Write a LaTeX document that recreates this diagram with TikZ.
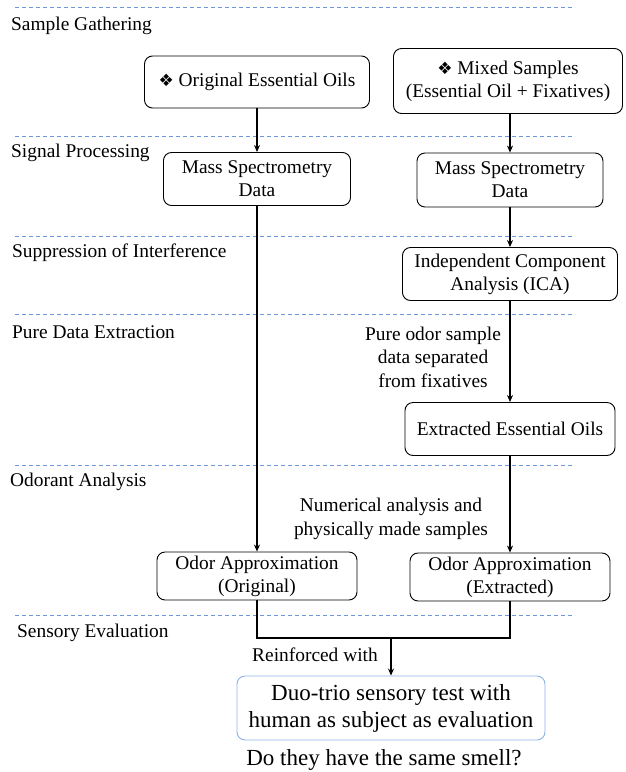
\documentclass[tikz,border=0pt]{standalone}
\usepackage{fontspec}
\setmainfont{Liberation Serif}
\newfontfamily\dejavu{DejaVu Sans}
\usetikzlibrary{arrows.meta}
\definecolor{sepblue}{HTML}{6F98DC}
\definecolor{duoblue}{HTML}{8FB0E6}
\newcommand{\dmd}{{\dejavu\fontsize{17}{17}\selectfont ❖}}

\begin{document}
\begin{tikzpicture}[x=1pt,y=-1pt,
  box/.style={draw,rounded corners=8pt,align=center,inner sep=0pt,line width=0.9pt,
    font=\fontsize{19.4}{23}\selectfont},
  sep/.style={draw=sepblue,dash pattern=on 4pt off 3pt,line width=1pt},
  lbl/.style={anchor=west,inner sep=0pt,font=\fontsize{19.4}{23}\selectfont},
  note/.style={align=center,inner sep=0pt,font=\fontsize{19.4}{23.5}\selectfont},
  flow/.style={line width=1.8pt,-{Stealth[length=7pt,width=6pt]}}]
\useasboundingbox (0,0) rectangle (625,772);
% stage separators and stage names
\draw[sep] (15,7.5) -- (575,7.5);
\draw[sep] (15,136.5) -- (575,136.5);
\draw[sep] (15,236.5) -- (575,236.5);
\draw[sep] (15,314.5) -- (575,314.5);
\draw[sep] (15,465.5) -- (575,465.5);
\draw[sep] (15,615.5) -- (575,615.5);
\node[lbl] (sg) at (11,26) {Sample Gathering};
\node[lbl] (sp) at (11,153) {Signal Processing};
\node[lbl] (si) at (12,253) {Suppression of Interference};
\node[lbl] (pd) at (12,332) {Pure Data Extraction};
\node[lbl] (oa) at (10,482) {Odorant Analysis};
\node[lbl] (se) at (17,633) {Sensory Evaluation};
%
\node[box,minimum width=225,minimum height=52] (orig) at (257,82) {\dmd\ Original Essential Oils};
\node[box,minimum width=229,minimum height=65] (mix) at (508,81) {\dmd\ Mixed Samples\\(Essential Oil + Fixatives)};
\node[box,minimum width=187,minimum height=53] (massA) at (257,179) {Mass Spectrometry\\Data};
\node[box,minimum width=186,minimum height=54] (massB) at (510,180) {Mass Spectrometry\\Data};
\node[box,minimum width=215,minimum height=53] (ica) at (510,274) {Independent Component\\Analysis (ICA)};
\node[box,minimum width=210,minimum height=53] (extr) at (510,429) {Extracted Essential Oils};
\node[box,minimum width=200,minimum height=48] (odorO) at (257,576) {Odor Approximation\\(Original)};
\node[box,minimum width=200,minimum height=48] (odorE) at (510,577) {Odor Approximation\\(Extracted)};
\node[box,draw=duoblue,minimum width=308,minimum height=64,
  font=\fontsize{23}{27}\selectfont] (duo) at (391,708) {Duo-trio sensory test with\\human as subject as evaluation};
%
\node[note] (pure) at (433,357) {Pure odor sample\\data separated\\from fixatives};
\node[note] (num) at (391,519) {Numerical analysis and\\physically made samples};
\node[note] (rw) at (315,655) {Reinforced with};
\node[note,font=\fontsize{23}{27}\selectfont] (ask) at (384,760) {Do they have the same smell?};
%
\coordinate (join) at (391,638);
\draw[flow] (orig) -- (massA);
\draw[flow] (massA) -- (odorO);
\draw[flow] (massB |- mix.south) -- (massB);
\draw[flow] (massB) -- (ica);
\draw[flow] (ica) -- (extr);
\draw[flow] (extr) -- (odorE);
\draw[line width=1.8pt] (odorO.south) |- (join) -| (odorE.south);
\draw[flow] (join) -- (duo);
\end{tikzpicture}
\end{document}
